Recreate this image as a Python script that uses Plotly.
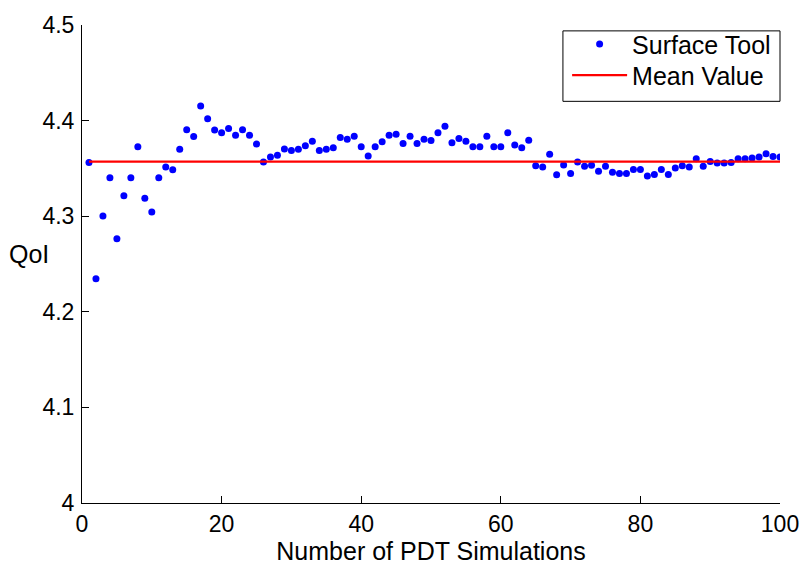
import plotly.graph_objects as go

# ---- data ----
simulations = list(range(1, 101))
qoi_values = [
    4.3563, 4.2345, 4.3003, 4.3403, 4.2764, 4.3215, 4.3403, 4.3727, 4.3188, 4.3044,
    4.3403, 4.3515, 4.3485, 4.3700, 4.3904, 4.3833, 4.4154, 4.4020, 4.3901, 4.3874,
    4.3918, 4.3846, 4.3904, 4.3846, 4.3754, 4.3567, 4.3618, 4.3638, 4.3703, 4.3686,
    4.3700, 4.3737, 4.3785, 4.3686, 4.3700, 4.3717, 4.3823, 4.3805, 4.3836, 4.3727,
    4.3631, 4.3727, 4.3778, 4.3846, 4.3857, 4.3761, 4.3836, 4.3761, 4.3805, 4.3792,
    4.3874, 4.3942, 4.3768, 4.3812, 4.3785, 4.3727, 4.3727, 4.3836, 4.3727, 4.3727,
    4.3874, 4.3744, 4.3717, 4.3795, 4.3529, 4.3515, 4.3648, 4.3433, 4.3536, 4.3447,
    4.3567, 4.3522, 4.3532, 4.3471, 4.3522, 4.3461, 4.3447, 4.3447, 4.3488, 4.3488,
    4.3420, 4.3437, 4.3488, 4.3437, 4.3505, 4.3529, 4.3515, 4.3601, 4.3522, 4.3573,
    4.3556, 4.3556, 4.3563, 4.3601, 4.3601, 4.3608, 4.3618, 4.3652, 4.3625, 4.3618,
]
mean_value = 4.357
mean_x = [simulations[0], simulations[-1]]

x_ticks = [0, 20, 40, 60, 80, 100]
y_ticks = [4.0, 4.1, 4.2, 4.3, 4.4, 4.5]
y_tick_labels = ["4", "4.1", "4.2", "4.3", "4.4", "4.5"]

FONT = "Liberation Sans, Arial, sans-serif"

fig = go.Figure()
fig.add_trace(go.Scatter(
    x=simulations, y=qoi_values, mode="markers", name="Surface Tool",
    marker=dict(color="#0000FF", size=7, symbol="circle"), legend="legend",
))
fig.add_trace(go.Scatter(
    x=mean_x, y=[mean_value, mean_value], mode="lines", name="Mean Value",
    line=dict(color="#FF0000", width=2.3), legend="legend2",
))

legend_style = dict(
    xanchor="left", yanchor="top", borderwidth=0, bgcolor="rgba(0,0,0,0)",
    font=dict(family=FONT, size=25, color="black"), itemwidth=55,
)

fig.update_layout(
    width=811, height=571,
    margin=dict(l=82, r=28, t=19, b=64),
    paper_bgcolor="white", plot_bgcolor="white",
    font=dict(family=FONT, size=22, color="black"),
    showlegend=True,
    legend=dict(x=0.695, y=1.008, **legend_style),
    legend2=dict(x=0.695, y=0.9427, **legend_style),
    shapes=[dict(
        type="rect", xref="paper", yref="paper",
        x0=0.689, x1=1.0, y0=0.8403, y1=0.9877,
        line=dict(color="black", width=1), fillcolor="rgba(0,0,0,0)", layer="below",
    )],
    xaxis=dict(
        range=[0, 100], tickvals=x_ticks, ticktext=[str(v) for v in x_ticks],
        showgrid=False, zeroline=False, showline=True, linecolor="black", linewidth=1,
        ticks="inside", ticklen=7, tickcolor="black", mirror=False,
        title=dict(text="Number of PDT Simulations", font=dict(size=25), standoff=5),
        tickfont=dict(size=23),
    ),
    yaxis=dict(
        range=[4.0, 4.5], tickvals=y_ticks, ticktext=y_tick_labels,
        showgrid=False, zeroline=False, showline=True, linecolor="black", linewidth=1,
        ticks="inside", ticklen=7, tickcolor="black", mirror=False,
        tickfont=dict(size=23), ticklabelstandoff=2,
    ),
    annotations=[dict(
        text="QoI", xref="paper", yref="paper", x=-0.0756, y=0.521,
        xanchor="center", yanchor="middle", showarrow=False,
        font=dict(family=FONT, size=25, color="black"),
    )],
)

fig.write_html("out.html")
